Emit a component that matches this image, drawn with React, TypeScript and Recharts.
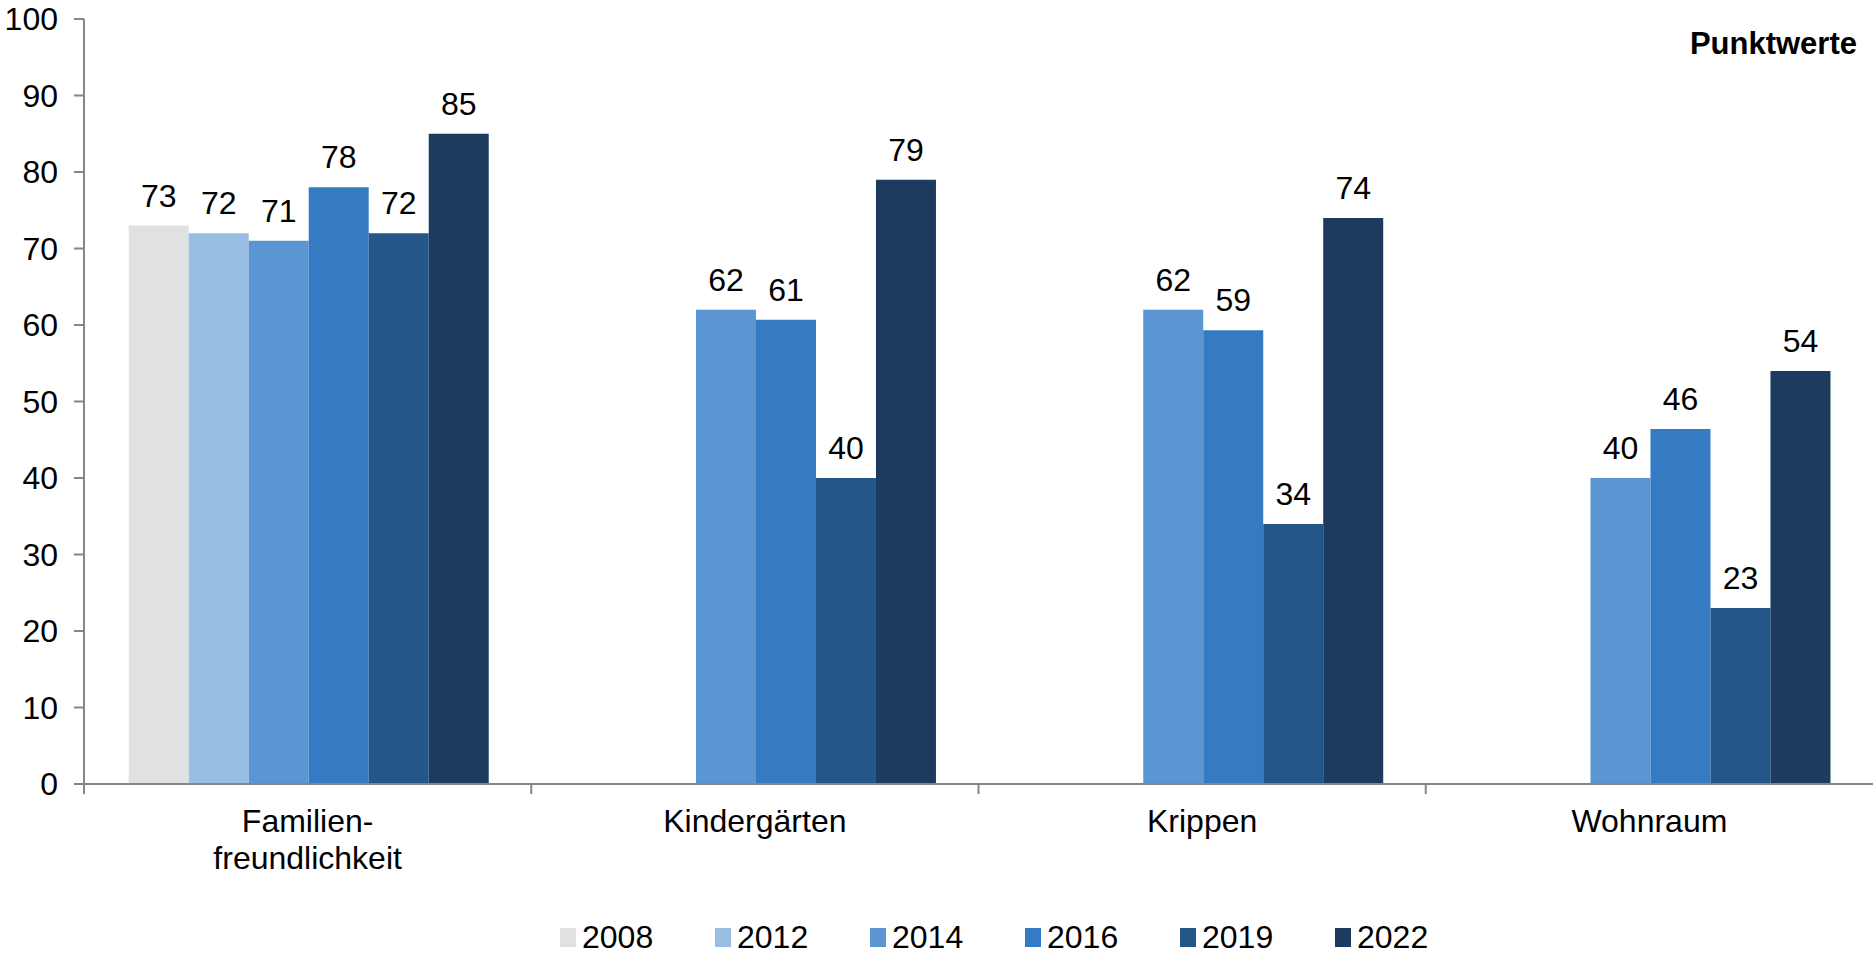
import { BarChart, Bar, XAxis, YAxis, LabelList, Legend } from "recharts";

const categories = ["Familien-\nfreundlichkeit", "Kindergärten", "Krippen", "Wohnraum"];
const years = ["2008", "2012", "2014", "2016", "2019", "2022"];

const v2008 = [73, null, null, null];
const v2012 = [72, null, null, null];
const v2014 = [71, 62, 62, 40];
const v2016 = [78, 60.7, 59.3, 46.4];
const v2019 = [72, 40, 34, 23];
const v2022 = [85, 79, 74, 54];

const yTicks = [0, 10, 20, 30, 40, 50, 60, 70, 80, 90, 100];

const COLORS: Record<string, string> = {
    "2008": "#e1e1e1",
    "2012": "#99bee3",
    "2014": "#5b96d2",
    "2016": "#347bc4",
    "2019": "#245688",
    "2022": "#1d3b5e",
};

const series = [v2008, v2012, v2014, v2016, v2019, v2022];

const data = categories.map((name, i) => {
    const row: Record<string, string | number | null> = { name };
    years.forEach((y, k) => {
        row[y] = series[k][i];
    });
    return row;
});

const W = 1875;
const H = 955;
const M = { top: 19, right: 2, left: 0, bottom: 0 };
const Y_W = 84;
const FONT = "'Liberation Sans', Arial, sans-serif";
const AXIS = "#868686";
const HALF = (W - M.right - Y_W - M.left) / categories.length / 2;

function CatTick(props: any) {
    const { x, y, payload } = props;
    const lines = String(payload.value).split("\n");
    return (
        <g>
            <line x1={x - HALF} y1={y} x2={x - HALF} y2={y + 10} stroke={AXIS} strokeWidth={2} />
            <text x={x} y={y + 48} textAnchor="middle" fontSize={32} fontFamily={FONT} fill="#000">
                {lines.map((l, i) => (
                    <tspan key={i} x={x} dy={i === 0 ? 0 : 37}>{l}</tspan>
                ))}
            </text>
        </g>
    );
}

function LegendBox() {
    return (
        <div style={{ display: "flex", fontFamily: FONT, fontSize: 32, color: "#000", paddingLeft: 560 }}>
            {years.map((y) => (
                <div key={y} style={{ display: "flex", alignItems: "center", width: 155 }}>
                    <span style={{ display: "inline-block", width: 16, height: 19, background: COLORS[y], marginRight: 6 }} />
                    <span>{y}</span>
                </div>
            ))}
        </div>
    );
}

export default function App() {
    return (
        <div style={{ position: "absolute", left: 0, top: 0, width: W, height: H, background: "#fff" }}>
            <BarChart width={W} height={H} data={data} margin={M} barCategoryGap="10%" barGap={0}>
                <YAxis
                    width={Y_W}
                    domain={[0, 100]}
                    ticks={yTicks}
                    interval={0}
                    tickSize={10}
                    tickMargin={16}
                    axisLine={{ stroke: AXIS, strokeWidth: 2 }}
                    tickLine={{ stroke: AXIS, strokeWidth: 2 }}
                    tick={{ fontSize: 32, fontFamily: FONT, fill: "#000" }}
                />
                <XAxis
                    dataKey="name"
                    height={135}
                    interval={0}
                    tickSize={0}
                    tickMargin={0}
                    axisLine={{ stroke: AXIS, strokeWidth: 2 }}
                    tickLine={false}
                    tick={<CatTick />}
                />
                <Legend verticalAlign="bottom" align="left" content={<LegendBox />} wrapperStyle={{ height: 36, left: 0 }} />
                {years.map((y) => (
                    <Bar key={y} dataKey={y} fill={COLORS[y]} isAnimationActive={false}>
                        <LabelList
                            dataKey={y}
                            position="top"
                            offset={19}
                            fontSize={32}
                            fontFamily={FONT}
                            fill="#000"
                            formatter={(v: any) => (v == null ? "" : Math.round(Number(v)))}
                        />
                    </Bar>
                ))}
            </BarChart>
            <div
                style={{
                    position: "absolute",
                    right: W - 1857,
                    top: 26,
                    fontFamily: FONT,
                    fontSize: 31,
                    fontWeight: "bold",
                    lineHeight: "36px",
                    color: "#000",
                }}
            >
                Punktwerte
            </div>
        </div>
    );
}
